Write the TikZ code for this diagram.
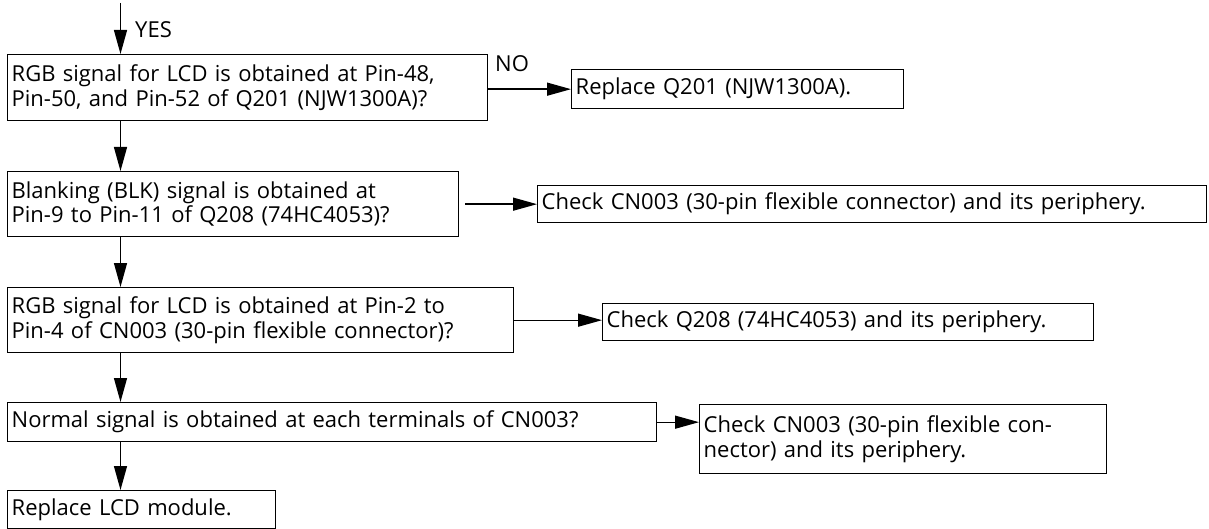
\documentclass[tikz,border=0pt]{standalone}
\usepackage{fontspec}
\setmainfont{Open Sans}
\usetikzlibrary{arrows.meta,calc}
\begin{document}
\begin{tikzpicture}[x=1pt,y=-1pt,
  every node/.style={font=\fontsize{22}{24.5}\selectfont},
  fbox/.style={draw, line width=1.35pt, anchor=north west, align=left, inner xsep=4pt, inner ysep=0pt},
  arr/.style={line width=1.35pt, -{Triangle[length=24pt,width=13pt]}},
  lbl/.style={anchor=base west, inner sep=0pt}
]
\useasboundingbox (0,0) rectangle (1209,529);
% left column
\node[fbox, text width=472pt, minimum height=66pt] (B1) at (7,54)
  {\mbox{RGB signal for LCD is obtained at Pin-48,}\\\mbox{Pin-50, and Pin-52 of Q201 (NJW1300A)?}};
\node[fbox, text width=443pt, minimum height=65pt] (B2) at (7,171)
  {\mbox{Blanking (BLK) signal is obtained at}\\\mbox{Pin-9 to Pin-11 of Q208 (74HC4053)?}};
\node[fbox, text width=498pt, minimum height=65pt] (B3) at (7,287)
  {\mbox{RGB signal for LCD is obtained at Pin-2 to}\\\mbox{Pin-4 of CN003 (30-pin flexible connector)?}};
\node[fbox, text width=641pt, minimum height=39pt] (B4) at (7,402)
  {\mbox{Normal signal is obtained at each terminals of CN003?}};
\node[fbox, text width=260pt, minimum height=38pt] (B5) at (7,490)
  {\mbox{Replace LCD module.}};
% right column
\node[fbox, text width=324pt, minimum height=39pt] (R1) at (571,69)
  {\mbox{Replace Q201 (NJW1300A).}};
\node[fbox, text width=661pt, minimum height=37pt] (R2) at (537,185)
  {\mbox{Check CN003 (30-pin flexible connector) and its periphery.}};
\node[fbox, text width=483pt, minimum height=37pt] (R3) at (602,303)
  {\mbox{Check Q208 (74HC4053) and its periphery.}};
\node[fbox, text width=399pt, minimum height=69pt] (R4) at (699,404)
  {\mbox{Check CN003 (30-pin flexible con-}\\\mbox{nector) and its periphery.}};
% labels
\node[lbl] (yes) at (135,37.5) {YES};
\node[lbl] (no) at (495,71.5) {NO};
% vertical arrows
\coordinate (start) at (120.5,3);
\draw[arr] (start) -- (start |- B1.north);
\draw[arr] (start |- B1.south) -- (start |- B2.north);
\draw[arr] (start |- B2.south) -- (start |- B3.north);
\draw[arr] (start |- B3.south) -- (start |- B4.north);
\draw[arr] (start |- B4.south) -- (start |- B5.north);
% horizontal arrows
\draw[arr] (R1.west -| B1.east) -- (R1.west);
\draw[arr] ([xshift=6pt]R2.west -| B2.east) -- (R2.west);
\draw[arr] (B3.east) -- (B3.east -| R3.west);
\draw[arr] (B4.east) -- (B4.east -| R4.west);
\end{tikzpicture}
\end{document}
